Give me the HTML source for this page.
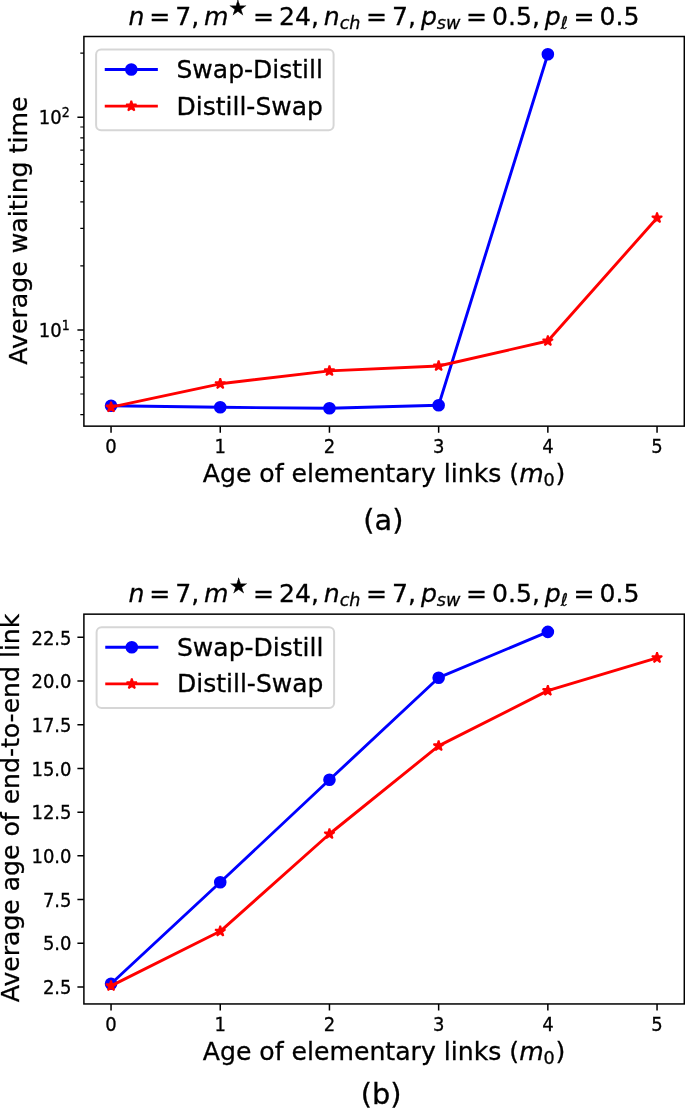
<!DOCTYPE html>
<html lang="en"><head><meta charset="utf-8"><title>Swap-Distill vs Distill-Swap</title>
<style>html,body{margin:0;padding:0;background:#fff}body{width:685px;height:1108px;overflow:hidden}svg{display:block;will-change:transform}text{font-family:"DejaVu Sans","Liberation Sans",sans-serif;fill:#000;stroke:#000;stroke-width:.3px}</style></head><body>
<svg width="685" height="1108" viewBox="0 0 685 1108">
<rect width="685" height="1108" fill="#fff"/>
<g id="plot-a">
<path d="M111.05 405.7 L220.25 407.3 L329.45 408.3 L438.65 405.2 L547.85 54.2" stroke="#00f" stroke-width="2.9" fill="none" stroke-linejoin="round" stroke-linecap="butt"/>
<circle cx="111.05" cy="405.7" r="5.4" fill="#00f" stroke="#00f" stroke-width="1.8"/>
<circle cx="220.25" cy="407.3" r="5.4" fill="#00f" stroke="#00f" stroke-width="1.8"/>
<circle cx="329.45" cy="408.3" r="5.4" fill="#00f" stroke="#00f" stroke-width="1.8"/>
<circle cx="438.65" cy="405.2" r="5.4" fill="#00f" stroke="#00f" stroke-width="1.8"/>
<circle cx="547.85" cy="54.2" r="5.4" fill="#00f" stroke="#00f" stroke-width="1.8"/>
<path d="M111.05 407.1 L220.25 383.8 L329.45 370.9 L438.65 366 L547.85 341 L657.05 218" stroke="#f00" stroke-width="2.9" fill="none" stroke-linejoin="round" stroke-linecap="butt"/>
<path d="M111.05 401.7 L109.84 405.43 L105.91 405.43 L109.09 407.74 L107.88 411.47 L111.05 409.16 L114.22 411.47 L113.01 407.74 L116.19 405.43 L112.26 405.43 Z" fill="#f00" stroke="#f00" stroke-width="1.8" stroke-linejoin="bevel"/>
<path d="M220.25 378.4 L219.04 382.13 L215.11 382.13 L218.29 384.44 L217.08 388.17 L220.25 385.86 L223.42 388.17 L222.21 384.44 L225.39 382.13 L221.46 382.13 Z" fill="#f00" stroke="#f00" stroke-width="1.8" stroke-linejoin="bevel"/>
<path d="M329.45 365.5 L328.24 369.23 L324.31 369.23 L327.49 371.54 L326.28 375.27 L329.45 372.96 L332.62 375.27 L331.41 371.54 L334.59 369.23 L330.66 369.23 Z" fill="#f00" stroke="#f00" stroke-width="1.8" stroke-linejoin="bevel"/>
<path d="M438.65 360.6 L437.44 364.33 L433.51 364.33 L436.69 366.64 L435.48 370.37 L438.65 368.06 L441.82 370.37 L440.61 366.64 L443.79 364.33 L439.86 364.33 Z" fill="#f00" stroke="#f00" stroke-width="1.8" stroke-linejoin="bevel"/>
<path d="M547.85 335.6 L546.64 339.33 L542.71 339.33 L545.89 341.64 L544.68 345.37 L547.85 343.06 L551.02 345.37 L549.81 341.64 L552.99 339.33 L549.06 339.33 Z" fill="#f00" stroke="#f00" stroke-width="1.8" stroke-linejoin="bevel"/>
<path d="M657.05 212.6 L655.84 216.33 L651.91 216.33 L655.09 218.64 L653.88 222.37 L657.05 220.06 L660.22 222.37 L659.01 218.64 L662.19 216.33 L658.26 216.33 Z" fill="#f00" stroke="#f00" stroke-width="1.8" stroke-linejoin="bevel"/>
<rect x="83.9" y="36.5" width="600.4" height="389.65" fill="none" stroke="#000" stroke-width="1.5"/>
<path d="M111.05 426.15v6.5M220.25 426.15v6.5M329.45 426.15v6.5M438.65 426.15v6.5M547.85 426.15v6.5M657.05 426.15v6.5" stroke="#000" stroke-width="1.5"/>
<text font-size="18" text-anchor="middle" transform="translate(111.05 452.85) scale(1 1.06)">0</text>
<text font-size="18" text-anchor="middle" transform="translate(220.25 452.85) scale(1 1.06)">1</text>
<text font-size="18" text-anchor="middle" transform="translate(329.45 452.85) scale(1 1.06)">2</text>
<text font-size="18" text-anchor="middle" transform="translate(438.65 452.85) scale(1 1.06)">3</text>
<text font-size="18" text-anchor="middle" transform="translate(547.85 452.85) scale(1 1.06)">4</text>
<text font-size="18" text-anchor="middle" transform="translate(657.05 452.85) scale(1 1.06)">5</text>
<path d="M83.9 117.25h-6.5M83.9 329.95h-6.5" stroke="#000" stroke-width="1.5"/>
<path d="M83.9 414.59h-3.6M83.9 393.98h-3.6M83.9 377.14h-3.6M83.9 362.9h-3.6M83.9 350.56h-3.6M83.9 339.68h-3.6M83.9 265.92h-3.6M83.9 228.47h-3.6M83.9 201.89h-3.6M83.9 181.28h-3.6M83.9 164.44h-3.6M83.9 150.2h-3.6M83.9 137.86h-3.6M83.9 126.98h-3.6M83.9 53.22h-3.6" stroke="#000" stroke-width="1.2"/>
<text font-size="18" transform="translate(38.8 123.95) scale(1 1.06)"><tspan x="0" y="0">10</tspan><tspan x="22.98" y="-6.5" font-size="12.6">2</tspan></text>
<text font-size="18" transform="translate(38.8 336.65) scale(1 1.06)"><tspan x="0" y="0">10</tspan><tspan x="22.98" y="-6.5" font-size="12.6">1</tspan></text>
<g transform="translate(0 0)">
<rect x="96.1" y="49.4" width="237.5" height="80.8" rx="5" ry="5" fill="#fff" fill-opacity="0.8" stroke="#ccc" stroke-opacity="0.8" stroke-width="2"/>
<path d="M106.2 69.5 H156.4" stroke="#00f" stroke-width="2.9" fill="none" stroke-linecap="square"/>
<circle cx="131.3" cy="69.5" r="5.4" fill="#00f" stroke="#00f" stroke-width="1.8"/>
<path d="M106.2 106.1 H156.4" stroke="#f00" stroke-width="2.9" fill="none" stroke-linecap="square"/>
<path d="M131.3 100.7 L130.09 104.43 L126.16 104.43 L129.34 106.74 L128.13 110.47 L131.3 108.16 L134.47 110.47 L133.26 106.74 L136.44 104.43 L132.51 104.43 Z" fill="#f00" stroke="#f00" stroke-width="1.8" stroke-linejoin="bevel"/>
<text font-size="25" x="176.5" y="78.1">Swap-Distill</text>
<text font-size="25" x="176.5" y="114.6">Distill-Swap</text>
</g>
<text font-size="25.13"><tspan x="128.4" y="24.5" font-style="oblique">n</tspan><tspan x="149.22" y="24.5">=</tspan><tspan x="175.17" y="24.5">7</tspan><tspan x="191.16" y="24.5">,</tspan><tspan x="204.05" y="24.5" font-style="oblique">m</tspan><tspan x="228.4" y="15.45" font-size="21">★</tspan><tspan x="252.95" y="24.5">=</tspan><tspan x="278.9" y="24.5">2</tspan><tspan x="294.89" y="24.5">4</tspan><tspan x="310.88" y="24.5">,</tspan><tspan x="323.76" y="24.5" font-style="oblique">n</tspan><tspan x="339.69" y="28.62" font-style="oblique" font-size="17.59">c</tspan><tspan x="349.36" y="28.62" font-style="oblique" font-size="17.59">h</tspan><tspan x="366.09" y="24.5">=</tspan><tspan x="392.04" y="24.5">7</tspan><tspan x="408.03" y="24.5">,</tspan><tspan x="420.92" y="24.5" font-style="oblique">p</tspan><tspan x="436.87" y="28.62" font-style="oblique" font-size="17.59">s</tspan><tspan x="446.03" y="28.62" font-style="oblique" font-size="17.59">w</tspan><tspan x="466" y="24.5">=</tspan><tspan x="491.96" y="24.5">0</tspan><tspan x="507.95" y="24.5">.</tspan><tspan x="515.93" y="24.5">5</tspan><tspan x="531.92" y="24.5">,</tspan><tspan x="544.8" y="24.5" font-style="oblique">p</tspan><tspan x="560.76" y="28.62" font-style="oblique" font-size="17.59">ℓ</tspan><tspan x="573.61" y="24.5">=</tspan><tspan x="599.56" y="24.5">0</tspan><tspan x="615.55" y="24.5">.</tspan><tspan x="623.54" y="24.5">5</tspan></text>
<text font-size="25.13"><tspan x="202.79" y="481.75">Age of elementary links (</tspan><tspan x="519.13" y="481.75" font-style="oblique">m</tspan><tspan x="543.61" y="485.87" font-size="17.59">0</tspan><tspan x="555.49" y="481.75">)</tspan></text>
<text font-size="25.2" text-anchor="middle" transform="translate(26.7 230.6) rotate(-90)">Average waiting time</text>
<text font-size="28.8" text-anchor="middle" x="383.4" y="530.3">(a)</text>
</g>
<g id="plot-b">
<path d="M111.05 983.8 L220.25 882.3 L329.45 779.8 L438.65 677.7 L547.85 631.9" stroke="#00f" stroke-width="2.9" fill="none" stroke-linejoin="round" stroke-linecap="butt"/>
<circle cx="111.05" cy="983.8" r="5.4" fill="#00f" stroke="#00f" stroke-width="1.8"/>
<circle cx="220.25" cy="882.3" r="5.4" fill="#00f" stroke="#00f" stroke-width="1.8"/>
<circle cx="329.45" cy="779.8" r="5.4" fill="#00f" stroke="#00f" stroke-width="1.8"/>
<circle cx="438.65" cy="677.7" r="5.4" fill="#00f" stroke="#00f" stroke-width="1.8"/>
<circle cx="547.85" cy="631.9" r="5.4" fill="#00f" stroke="#00f" stroke-width="1.8"/>
<path d="M111.05 985.9 L220.25 931.3 L329.45 834 L438.65 745.9 L547.85 690.6 L657.05 657.8" stroke="#f00" stroke-width="2.9" fill="none" stroke-linejoin="round" stroke-linecap="butt"/>
<path d="M111.05 980.5 L109.84 984.23 L105.91 984.23 L109.09 986.54 L107.88 990.27 L111.05 987.96 L114.22 990.27 L113.01 986.54 L116.19 984.23 L112.26 984.23 Z" fill="#f00" stroke="#f00" stroke-width="1.8" stroke-linejoin="bevel"/>
<path d="M220.25 925.9 L219.04 929.63 L215.11 929.63 L218.29 931.94 L217.08 935.67 L220.25 933.36 L223.42 935.67 L222.21 931.94 L225.39 929.63 L221.46 929.63 Z" fill="#f00" stroke="#f00" stroke-width="1.8" stroke-linejoin="bevel"/>
<path d="M329.45 828.6 L328.24 832.33 L324.31 832.33 L327.49 834.64 L326.28 838.37 L329.45 836.06 L332.62 838.37 L331.41 834.64 L334.59 832.33 L330.66 832.33 Z" fill="#f00" stroke="#f00" stroke-width="1.8" stroke-linejoin="bevel"/>
<path d="M438.65 740.5 L437.44 744.23 L433.51 744.23 L436.69 746.54 L435.48 750.27 L438.65 747.96 L441.82 750.27 L440.61 746.54 L443.79 744.23 L439.86 744.23 Z" fill="#f00" stroke="#f00" stroke-width="1.8" stroke-linejoin="bevel"/>
<path d="M547.85 685.2 L546.64 688.93 L542.71 688.93 L545.89 691.24 L544.68 694.97 L547.85 692.66 L551.02 694.97 L549.81 691.24 L552.99 688.93 L549.06 688.93 Z" fill="#f00" stroke="#f00" stroke-width="1.8" stroke-linejoin="bevel"/>
<path d="M657.05 652.4 L655.84 656.13 L651.91 656.13 L655.09 658.44 L653.88 662.17 L657.05 659.86 L660.22 662.17 L659.01 658.44 L662.19 656.13 L658.26 656.13 Z" fill="#f00" stroke="#f00" stroke-width="1.8" stroke-linejoin="bevel"/>
<rect x="83.9" y="614.15" width="600.4" height="389.8" fill="none" stroke="#000" stroke-width="1.5"/>
<path d="M111.05 1003.95v6.5M220.25 1003.95v6.5M329.45 1003.95v6.5M438.65 1003.95v6.5M547.85 1003.95v6.5M657.05 1003.95v6.5" stroke="#000" stroke-width="1.5"/>
<text font-size="18" text-anchor="middle" transform="translate(111.05 1030.65) scale(1 1.06)">0</text>
<text font-size="18" text-anchor="middle" transform="translate(220.25 1030.65) scale(1 1.06)">1</text>
<text font-size="18" text-anchor="middle" transform="translate(329.45 1030.65) scale(1 1.06)">2</text>
<text font-size="18" text-anchor="middle" transform="translate(438.65 1030.65) scale(1 1.06)">3</text>
<text font-size="18" text-anchor="middle" transform="translate(547.85 1030.65) scale(1 1.06)">4</text>
<text font-size="18" text-anchor="middle" transform="translate(657.05 1030.65) scale(1 1.06)">5</text>
<path d="M83.9 987h-6.5M83.9 943.29h-6.5M83.9 899.58h-6.5M83.9 855.86h-6.5M83.9 812.15h-6.5M83.9 768.44h-6.5M83.9 724.73h-6.5M83.9 681.01h-6.5M83.9 637.3h-6.5" stroke="#000" stroke-width="1.5"/>
<text font-size="18" text-anchor="end" transform="translate(71.5 994.2) scale(1 1.06)">2.5</text>
<text font-size="18" text-anchor="end" transform="translate(71.5 950.49) scale(1 1.06)">5.0</text>
<text font-size="18" text-anchor="end" transform="translate(71.5 906.78) scale(1 1.06)">7.5</text>
<text font-size="18" text-anchor="end" transform="translate(71.5 863.06) scale(1 1.06)">10.0</text>
<text font-size="18" text-anchor="end" transform="translate(71.5 819.35) scale(1 1.06)">12.5</text>
<text font-size="18" text-anchor="end" transform="translate(71.5 775.64) scale(1 1.06)">15.0</text>
<text font-size="18" text-anchor="end" transform="translate(71.5 731.93) scale(1 1.06)">17.5</text>
<text font-size="18" text-anchor="end" transform="translate(71.5 688.21) scale(1 1.06)">20.0</text>
<text font-size="18" text-anchor="end" transform="translate(71.5 644.5) scale(1 1.06)">22.5</text>
<g transform="translate(0.5 0.1)">
<rect x="96.1" y="627.05" width="237.5" height="80.8" rx="5" ry="5" fill="#fff" fill-opacity="0.8" stroke="#ccc" stroke-opacity="0.8" stroke-width="2"/>
<path d="M106.2 647.15 H156.4" stroke="#00f" stroke-width="2.9" fill="none" stroke-linecap="square"/>
<circle cx="131.3" cy="647.15" r="5.4" fill="#00f" stroke="#00f" stroke-width="1.8"/>
<path d="M106.2 683.75 H156.4" stroke="#f00" stroke-width="2.9" fill="none" stroke-linecap="square"/>
<path d="M131.3 678.35 L130.09 682.08 L126.16 682.08 L129.34 684.39 L128.13 688.12 L131.3 685.81 L134.47 688.12 L133.26 684.39 L136.44 682.08 L132.51 682.08 Z" fill="#f00" stroke="#f00" stroke-width="1.8" stroke-linejoin="bevel"/>
<text font-size="25" x="176.5" y="655.75">Swap-Distill</text>
<text font-size="25" x="176.5" y="692.25">Distill-Swap</text>
</g>
<text font-size="25.13"><tspan x="128.4" y="602.2" font-style="oblique">n</tspan><tspan x="149.22" y="602.2">=</tspan><tspan x="175.17" y="602.2">7</tspan><tspan x="191.16" y="602.2">,</tspan><tspan x="204.05" y="602.2" font-style="oblique">m</tspan><tspan x="229.3" y="592.85" font-size="21">★</tspan><tspan x="252.95" y="602.2">=</tspan><tspan x="278.9" y="602.2">2</tspan><tspan x="294.89" y="602.2">4</tspan><tspan x="310.88" y="602.2">,</tspan><tspan x="323.76" y="602.2" font-style="oblique">n</tspan><tspan x="339.69" y="606.32" font-style="oblique" font-size="17.59">c</tspan><tspan x="349.36" y="606.32" font-style="oblique" font-size="17.59">h</tspan><tspan x="366.09" y="602.2">=</tspan><tspan x="392.04" y="602.2">7</tspan><tspan x="408.03" y="602.2">,</tspan><tspan x="420.92" y="602.2" font-style="oblique">p</tspan><tspan x="436.87" y="606.32" font-style="oblique" font-size="17.59">s</tspan><tspan x="446.03" y="606.32" font-style="oblique" font-size="17.59">w</tspan><tspan x="466" y="602.2">=</tspan><tspan x="491.96" y="602.2">0</tspan><tspan x="507.95" y="602.2">.</tspan><tspan x="515.93" y="602.2">5</tspan><tspan x="531.92" y="602.2">,</tspan><tspan x="544.8" y="602.2" font-style="oblique">p</tspan><tspan x="560.76" y="606.32" font-style="oblique" font-size="17.59">ℓ</tspan><tspan x="573.61" y="602.2">=</tspan><tspan x="599.56" y="602.2">0</tspan><tspan x="615.55" y="602.2">.</tspan><tspan x="623.54" y="602.2">5</tspan></text>
<text font-size="25.13"><tspan x="202.79" y="1060.2">Age of elementary links (</tspan><tspan x="519.13" y="1060.2" font-style="oblique">m</tspan><tspan x="543.61" y="1064.32" font-size="17.59">0</tspan><tspan x="555.49" y="1060.2">)</tspan></text>
<text font-size="25.1" text-anchor="middle" transform="translate(19.1 808) rotate(-90)">Average age of end-to-end link</text>
<text font-size="28.8" text-anchor="middle" x="381.1" y="1104.4">(b)</text>
</g>
</svg></body></html>
